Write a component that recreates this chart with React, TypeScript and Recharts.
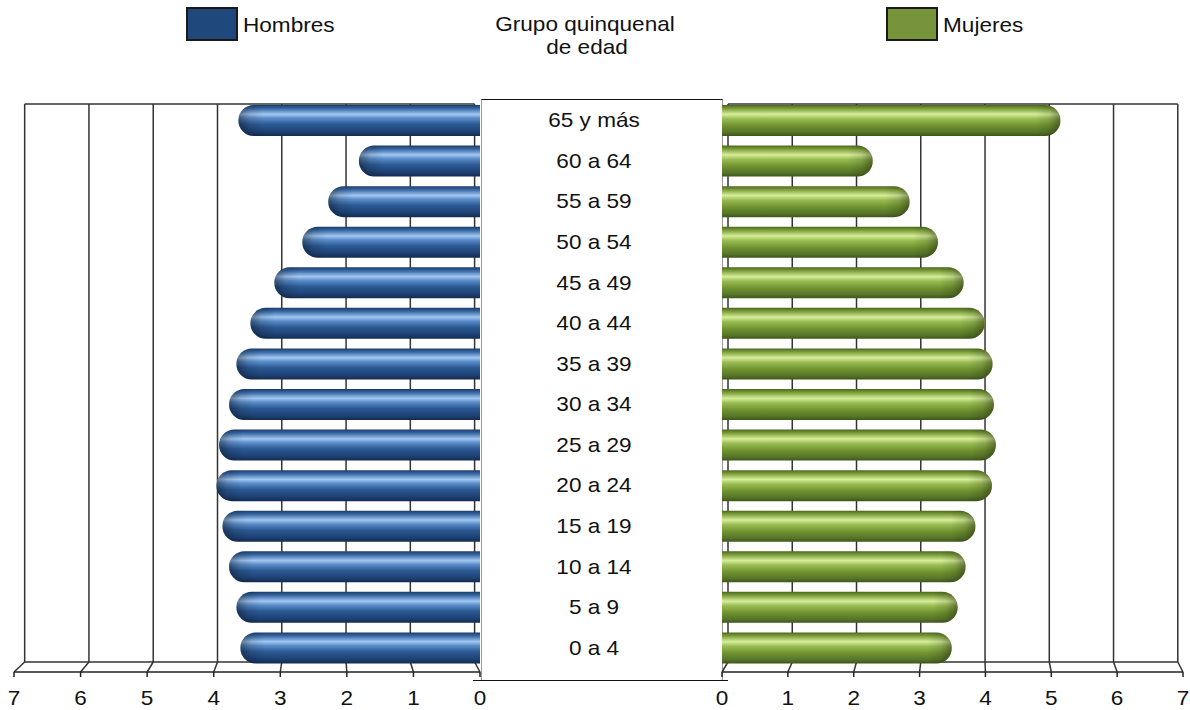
import React from "react";
import { BarChart, Bar, XAxis, YAxis, CartesianGrid } from "recharts";

// Porcentaje de población por grupo quinquenal de edad
const AGE_GROUPS = [
  "65 y más",
  "60 a 64",
  "55 a 59",
  "50 a 54",
  "45 a 49",
  "40 a 44",
  "35 a 39",
  "30 a 34",
  "25 a 29",
  "20 a 24",
  "15 a 19",
  "10 a 14",
  "5 a 9",
  "0 a 4",
];
const HOMBRES = [3.63, 1.82, 2.28, 2.67, 3.09, 3.45, 3.66, 3.77, 3.92, 3.96, 3.87, 3.77, 3.66, 3.6];
const MUJERES = [5.14, 2.29, 2.85, 3.28, 3.67, 3.99, 4.11, 4.13, 4.16, 4.1, 3.85, 3.7, 3.58, 3.49];
const X_TICKS = [0, 1, 2, 3, 4, 5, 6, 7];

const data = AGE_GROUPS.map((grupo, i) => ({
  grupo,
  hombres: HOMBRES[i],
  mujeres: MUJERES[i],
}));

const FONT = '"Liberation Sans", Arial, sans-serif';
const STRETCH = 1.13;
const W = 1190;
const H = 710;
const TOP = 100;
const FLOOR_BACK = 662;
const WALL_TOP = 104;

// back wall is a slightly shrunken copy of the front axis
const LEFT_WALL = { vanish: 323.5, depth: 0.9655 };
const RIGHT_WALL = { vanish: 969, depth: 0.9757 };

const backX = (fx: number, wall: { vanish: number; depth: number }) =>
  wall.vanish + (fx - wall.vanish) * wall.depth;

function Label({ x, y, children, size = 20 }: any) {
  return (
    <text
      transform={`translate(${x},${y}) scale(${STRETCH},1)`}
      textAnchor="middle"
      fontSize={size}
      fontFamily={FONT}
      fill="#111"
    >
      {children}
    </text>
  );
}

function ValueTick({ x, y, payload }: any) {
  return (
    <g>
      <line x1={x} y1={y} x2={x} y2={y + 5} stroke="#222" strokeWidth={1.5} />
      <Label x={x} y={y + 33}>
        {payload.value}
      </Label>
    </g>
  );
}

function GroupTick({ x, y, payload }: any) {
  return (
    <Label x={x + 114} y={y + 7}>
      {payload.value}
    </Label>
  );
}

function makeWall(wall: { vanish: number; depth: number }, ends: [number, number]) {
  return (p: any) => {
    const bx = backX(p.x1, wall);
    const b0 = backX(ends[0], wall);
    const b1 = backX(ends[1], wall);
    return (
      <g key={p.key}>
        {p.index === 0 && (
          <>
            <line x1={b0} y1={WALL_TOP} x2={b1} y2={WALL_TOP} stroke="#333" strokeWidth={1.5} />
            <line x1={b0} y1={FLOOR_BACK} x2={b1} y2={FLOOR_BACK} stroke="#333" strokeWidth={1.5} />
          </>
        )}
        <line x1={bx} y1={WALL_TOP} x2={bx} y2={FLOOR_BACK} stroke="#333" strokeWidth={1.5} />
        <line x1={bx} y1={FLOOR_BACK} x2={p.x1} y2={p.y2} stroke="#333" strokeWidth={1.5} />
      </g>
    );
  };
}

function Cylinder(props: any) {
  const { x, y, width, height, side, fillId, capId } = props;
  const left = Math.min(x, x + width);
  const w = Math.abs(width);
  const r = height / 2;
  const right = left + w;
  const d =
    side === "left"
      ? `M${right},${y} H${left + r} A${r},${r} 0 0 0 ${left + r},${y + height} H${right} Z`
      : `M${left},${y} H${right - r} A${r},${r} 0 0 1 ${right - r},${y + height} H${left} Z`;
  const capW = r * 1.6;
  const capX = side === "left" ? left : right - capW;
  const clipId = `clip-${side}-${Math.round(y)}`;
  return (
    <g>
      <path d={d} fill={`url(#${fillId})`} />
      <clipPath id={clipId}>
        <path d={d} />
      </clipPath>
      <rect x={capX} y={y} width={capW} height={height} fill={`url(#${capId})`} clipPath={`url(#${clipId})`} />
    </g>
  );
}

function Gradients({ prefix, stops, capLeft }: any) {
  return (
    <defs>
      <linearGradient id={`${prefix}-fill`} x1="0" y1="0" x2="0" y2="1">
        {stops.map((s: [number, string], i: number) => (
          <stop key={i} offset={s[0]} stopColor={s[1]} />
        ))}
      </linearGradient>
      <linearGradient id={`${prefix}-cap`} x1={capLeft ? "0" : "1"} y1="0" x2={capLeft ? "1" : "0"} y2="0">
        <stop offset="0" stopColor="#000" stopOpacity={0.4} />
        <stop offset="0.45" stopColor="#000" stopOpacity={0.12} />
        <stop offset="1" stopColor="#000" stopOpacity={0} />
      </linearGradient>
    </defs>
  );
}

const BLUE_STOPS = [
  [0, "#1b3b68"],
  [0.12, "#3a6aa6"],
  [0.3, "#a2c8f2"],
  [0.42, "#5d8fcc"],
  [0.62, "#2c5a94"],
  [0.85, "#1e4275"],
  [1, "#132c50"],
];
const GREEN_STOPS = [
  [0, "#4b671f"],
  [0.12, "#7fa03c"],
  [0.3, "#d6ee9a"],
  [0.45, "#98bb52"],
  [0.68, "#6f922f"],
  [0.88, "#56752a"],
  [1, "#3f561a"],
];

export default function App() {
  return (
    <div style={{ position: "absolute", left: 0, top: 0, width: W, height: H, background: "#fff" }}>
      {/* encabezado: leyenda y título de la columna central */}
      <svg width={W} height={70} style={{ position: "absolute", left: 0, top: 0 }}>
        <rect x={187} y={8} width={50} height={32} fill="#1f497d" stroke="#1a1a1a" strokeWidth={2} />
        <text transform={`translate(243,32) scale(${STRETCH},1)`} fontSize={20} fontFamily={FONT} fill="#111">
          Hombres
        </text>
        <Label x={585} y={31}>Grupo quinquenal</Label>
        <Label x={587} y={54}>de edad</Label>
        <rect x={887} y={8} width={50} height={32} fill="#77933c" stroke="#1a1a1a" strokeWidth={2} />
        <text transform={`translate(943,32) scale(${STRETCH},1)`} fontSize={20} fontFamily={FONT} fill="#111">
          Mujeres
        </text>
      </svg>

      {/* columna central de grupos de edad */}
      <div
        style={{
          position: "absolute",
          left: 481,
          top: 99,
          width: 240,
          height: 581,
          borderLeft: "1.5px solid #999",
          borderRight: "1.5px solid #999",
          borderTop: "1.5px solid #111",
          background: "#fff",
        }}
      />
      <div style={{ position: "absolute", left: 473, top: 680, width: 255, height: 0, borderTop: "1.5px solid #111" }} />

      {/* Hombres */}
      <div style={{ position: "absolute", left: 0, top: 0 }}>
        <BarChart
          width={W}
          height={H}
          data={data}
          layout="vertical"
          margin={{ top: TOP, right: 470, bottom: 8, left: 14 }}
          barCategoryGap={0}
        >
          <Gradients prefix="blue" stops={BLUE_STOPS} capLeft />
          <CartesianGrid horizontal={false} vertical={makeWall(LEFT_WALL, [14, 480])} />
          <XAxis
            type="number"
            domain={[0, 7]}
            ticks={X_TICKS}
            reversed
            height={30}
            tickSize={0}
            tickMargin={0}
            axisLine={{ stroke: "#222", strokeWidth: 1.5 }}
            tick={<ValueTick />}
            interval={0}
          />
          <YAxis
            type="category"
            dataKey="grupo"
            orientation="right"
            width={240}
            padding={{ top: 0, bottom: 4 }}
            axisLine={false}
            tickLine={false}
            tickSize={0}
            tickMargin={0}
            interval={0}
            tick={<GroupTick />}
          />
          <Bar
            dataKey="hombres"
            barSize={31}
            isAnimationActive={false}
            shape={(p: any) => <Cylinder {...p} side="left" fillId="blue-fill" capId="blue-cap" />}
          />
        </BarChart>
      </div>

      {/* Mujeres */}
      <div style={{ position: "absolute", left: 0, top: 0 }}>
        <BarChart
          width={W}
          height={H}
          data={data}
          layout="vertical"
          margin={{ top: TOP, right: 7, bottom: 8, left: 722 }}
          barCategoryGap={0}
        >
          <Gradients prefix="green" stops={GREEN_STOPS} capLeft={false} />
          <CartesianGrid horizontal={false} vertical={makeWall(RIGHT_WALL, [722, 1183])} />
          <XAxis
            type="number"
            domain={[0, 7]}
            ticks={X_TICKS}
            height={30}
            tickSize={0}
            tickMargin={0}
            axisLine={{ stroke: "#222", strokeWidth: 1.5 }}
            tick={<ValueTick />}
            interval={0}
          />
          <YAxis type="category" dataKey="grupo" hide padding={{ top: 0, bottom: 4 }} />
          <Bar
            dataKey="mujeres"
            barSize={31}
            isAnimationActive={false}
            shape={(p: any) => <Cylinder {...p} side="right" fillId="green-fill" capId="green-cap" />}
          />
        </BarChart>
      </div>
    </div>
  );
}
